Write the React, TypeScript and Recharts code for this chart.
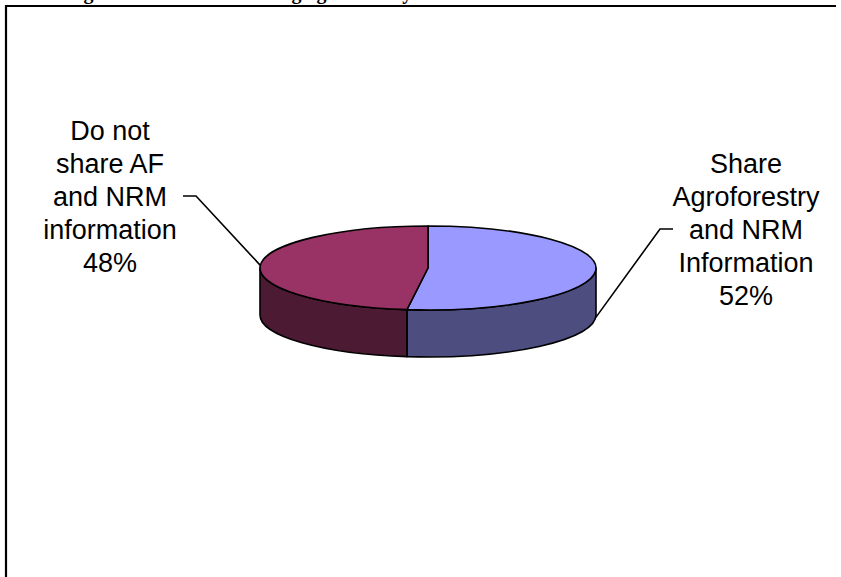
import React from "react";
import { PieChart, Pie } from "recharts";

// Survey split: farmers who share agroforestry / NRM information vs. those who do not
const CATEGORIES = [
  "Share\nAgroforestry\nand NRM\nInformation",
  "Do not\nshare AF\nand NRM\ninformation",
];
const VALUES = [52, 48];
const TOP_COLORS = ["#9999FF", "#993366"];
const SIDE_COLORS = ["#4D4D80", "#4D1A33"];

const TITLE =
  "Figure 14: Farmers sharing agroforestry and NRM information with other farmers";

const data = CATEGORIES.map((name, i) => ({ name, value: VALUES[i] }));

// Flattening of the disc (vertical radius / horizontal radius) and wall height
const TILT = 0.25;
const DEPTH = 47;
const RAD = Math.PI / 180;

const pt = (cx: number, cy: number, rx: number, ry: number, a: number) => ({
  x: cx + rx * Math.cos(a * RAD),
  y: cy - ry * Math.sin(a * RAD),
});

// Draws one slice of the tilted disc: visible front wall first, then the top face
const Slice3D = (props: any) => {
  const { cx, cy, outerRadius, startAngle, endAngle, index } = props;
  const rx = outerRadius;
  const ry = outerRadius * TILT;
  const hi = Math.max(startAngle, endAngle);
  const lo = Math.min(startAngle, endAngle);

  const walls: string[] = [];
  for (let k = -2; k <= 1; k++) {
    const a1 = Math.max(lo, -180 + 360 * k);
    const a2 = Math.min(hi, 360 * k);
    if (a2 - a1 > 0.01) {
      const p2 = pt(cx, cy, rx, ry, a2);
      const p1 = pt(cx, cy, rx, ry, a1);
      const large = a2 - a1 > 180 ? 1 : 0;
      walls.push(
        `M${p2.x},${p2.y} A${rx},${ry} 0 ${large} 1 ${p1.x},${p1.y} ` +
          `L${p1.x},${p1.y + DEPTH} A${rx},${ry} 0 ${large} 0 ${p2.x},${p2.y + DEPTH} Z`
      );
    }
  }

  const s = pt(cx, cy, rx, ry, hi);
  const e = pt(cx, cy, rx, ry, lo);
  const largeTop = hi - lo > 180 ? 1 : 0;
  const top = `M${cx},${cy} L${s.x},${s.y} A${rx},${ry} 0 ${largeTop} 1 ${e.x},${e.y} Z`;

  return (
    <g>
      {walls.map((d, i) => (
        <path
          key={i}
          d={d}
          fill={SIDE_COLORS[index % SIDE_COLORS.length]}
          stroke="#000"
          strokeWidth={1.6}
          strokeLinejoin="round"
        />
      ))}
      <path
        d={top}
        fill={TOP_COLORS[index % TOP_COLORS.length]}
        stroke="#000"
        strokeWidth={1.6}
        strokeLinejoin="round"
      />
    </g>
  );
};

const FONT_SIZE = 27;
const LINE_GAP = 33;

// Multi-line category label with a bent leader line back to the disc
const SliceLabel = (props: any) => {
  const { cx, cy, midAngle, outerRadius, percent, name } = props;
  const rx = outerRadius;
  const ry = outerRadius * TILT;
  const dir = Math.cos(midAngle * RAD) >= 0 ? 1 : -1;
  const rim = pt(cx, cy, rx, ry, midAngle);
  // right-hand anchor sits on the lower rim of the wall, left-hand on the top edge
  const anchor = dir > 0 ? { x: rim.x, y: rim.y + DEPTH } : rim;

  const labelX = cx + dir * 318;
  const midY = dir > 0 ? cy - 39 : cy - 72;
  const lines = [...String(name).split("\n"), `${Math.round(percent * 100)}%`];
  const firstY = midY - 2 * LINE_GAP;

  const elbowX = labelX - dir * 86;
  const tickX = labelX - dir * 73;

  return (
    <g>
      <polyline
        points={`${anchor.x},${anchor.y} ${elbowX},${midY} ${tickX},${midY}`}
        fill="none"
        stroke="#000"
        strokeWidth={1.6}
      />
      <text
        x={labelX}
        textAnchor="middle"
        fontFamily="'Liberation Sans', Arial, sans-serif"
        fontSize={FONT_SIZE}
        fill="#000"
      >
        {lines.map((ln, i) => (
          <tspan key={i} x={labelX} y={firstY + i * LINE_GAP + FONT_SIZE * 0.36}>
            {ln}
          </tspan>
        ))}
      </text>
    </g>
  );
};

export default function App() {
  return (
    <div
      style={{
        position: "absolute",
        left: 0,
        top: 0,
        width: 841,
        height: 577,
        background: "#fff",
        overflow: "hidden",
      }}
    >
      <div
        style={{
          position: "absolute",
          left: 0,
          top: -20,
          width: 841,
          textAlign: "center",
          fontFamily: "'Liberation Serif', 'Times New Roman', serif",
          fontWeight: "bold",
          fontSize: 20,
          lineHeight: "24px",
          whiteSpace: "nowrap",
        }}
      >
        {TITLE}
      </div>
      <div style={{ position: "absolute", left: 0, top: 0 }}>
        <PieChart
          width={841}
          height={577}
          margin={{ top: 0, right: 0, bottom: 0, left: 0 }}
        >
          <Pie
            data={data}
            dataKey="value"
            nameKey="name"
            cx={428}
            cy={268}
            outerRadius={168}
            startAngle={90}
            endAngle={-270}
            stroke="none"
            isAnimationActive={false}
            shape={Slice3D}
            label={SliceLabel}
            labelLine={false}
          />
        </PieChart>
      </div>
      {/* chart-area frame: only its left and top edges fall inside the page */}
      <svg
        width={841}
        height={577}
        style={{ position: "absolute", left: 0, top: 0, pointerEvents: "none" }}
      >
        <path d="M6,577 V6 H836" fill="none" stroke="#000" strokeWidth={2.2} />
      </svg>
    </div>
  );
}
